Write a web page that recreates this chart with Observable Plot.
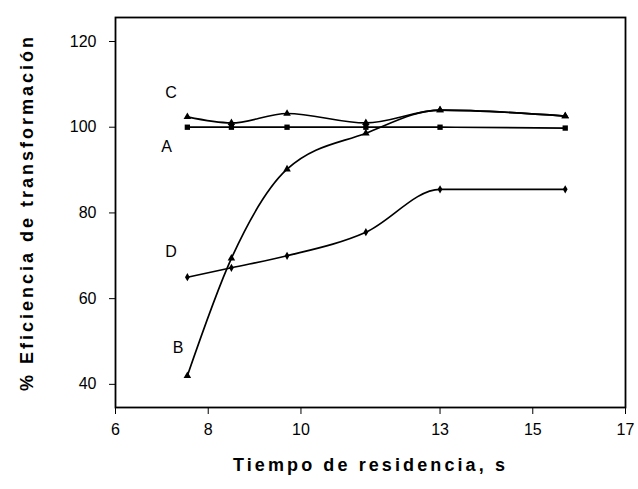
<!DOCTYPE html>
<html><head><meta charset="utf-8">
<script src="https://cdn.jsdelivr.net/npm/d3@7"></script>
<script src="https://cdn.jsdelivr.net/npm/@observablehq/plot@0.6"></script>
<style>
body{margin:0;background:#fff;}
#chart svg{font-family:"Liberation Sans",Arial,sans-serif;}
#chart g[aria-label="x-axis tick label"] text, #chart g[aria-label="y-axis tick label"] text{font-size:16px;}
#chart g[aria-label="x-axis label"] text{font-size:18px;font-weight:bold;letter-spacing:3.1px;}
#chart g[aria-label="y-axis label"] text{font-size:18px;font-weight:bold;letter-spacing:3px;}
</style></head><body><div id="chart"></div>
<script>
// Data
const residenceTimes = [7.55, 8.5, 9.7, 11.4, 13.0, 15.7];
const seriesA = [100, 100, 100, 100, 100, 99.8];
const seriesB = [42, 69.4, 90.2, 98.6, 104, 102.6];
const seriesC = [102.4, 101, 103.2, 101, 104, 102.6];
const seriesD = [65, 67.2, 70, 75.5, 85.5, 85.5];
const seriesNames = ["A", "B", "C", "D"];
const xTicks = [6, 8, 10, 13, 15, 17];
const yTicks = [40, 60, 80, 100, 120];
const labelNames = ["C", "A", "D", "B"];
const labelX = [7.2, 7.1, 7.2, 7.35];
const labelY = [108, 95.5, 71, 48.6];

const allValues = [seriesA, seriesB, seriesC, seriesD];
const data = [];
seriesNames.forEach((name, k) => residenceTimes.forEach((x, i) => data.push({series: name, x, y: allValues[k][i]})));
const labels = labelNames.map((t, i) => ({text: t, x: labelX[i], y: labelY[i]}));
const only = s => data.filter(d => d.series === s);

const chart = Plot.plot({
  width: 638, height: 489,
  marginLeft: 115, marginRight: 13, marginTop: 17, marginBottom: 82,
  style: {fontFamily: "Liberation Sans, Arial, sans-serif", fontSize: "15px", color: "#000", background: "#fff"},
  x: {domain: [6, 17], ticks: xTicks, tickSize: 7, tickPadding: 9, tickFormat: d => String(d),
      label: "Tiempo de residencia, s", labelAnchor: "center", labelOffset: 63, labelArrow: false},
  y: {domain: [34.6, 125.6], ticks: yTicks, tickSize: 6, tickPadding: 13, tickFormat: d => String(d),
      label: "% Eficiencia de transformación", labelAnchor: "center", labelOffset: 95, labelArrow: false},
  marks: [
    Plot.frame({stroke: "#000", strokeWidth: 1.8}),
    Plot.line(data, {x: "x", y: "y", z: "series", curve: "monotone-x", stroke: "#000", strokeWidth: 1.7}),
    Plot.dot(only("A"), {x: "x", y: "y", symbol: "square", fill: "#000", r: 3}),
    Plot.dot(only("B"), {x: "x", y: "y", symbol: "triangle", fill: "#000", r: 2.8}),
    Plot.dot(only("C"), {x: "x", y: "y", symbol: "triangle", fill: "#000", r: 2.8}),
    Plot.dot(only("D"), {x: "x", y: "y", symbol: "diamond", fill: "#000", r: 2.5}),
    Plot.text(labels, {x: "x", y: "y", text: "text", fontSize: 16, fill: "#000"})
  ]
});
document.getElementById("chart").appendChild(chart);
</script></body></html>
